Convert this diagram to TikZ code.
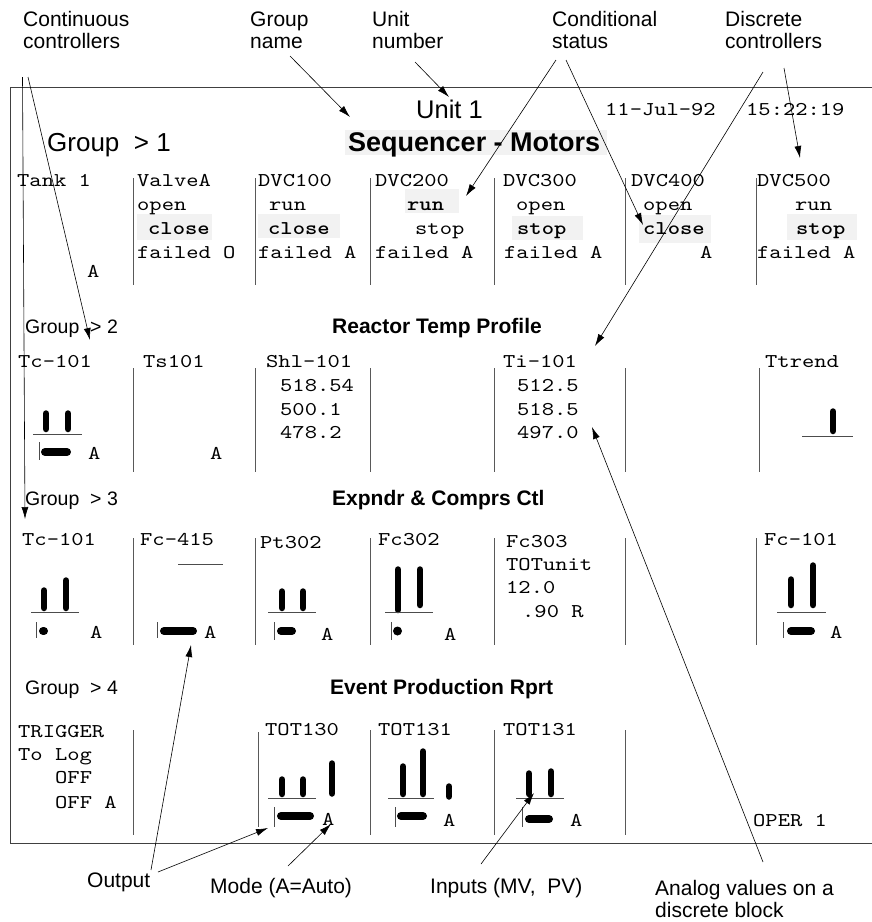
\documentclass[tikz,border=0pt]{standalone}
\usepackage{fontspec}
\setmainfont{Liberation Sans}
\newfontfamily\monofam{lmmono10-regular.otf}[BoldFont=lmmonolt10-bold.otf,FakeStretch=1.2]
\usetikzlibrary{arrows.meta}
\begin{document}
\begin{tikzpicture}[x=1pt,y=-1pt,
  lbl/.style={anchor=base west,inner sep=0,font=\fontsize{21}{25}\selectfont},
  mono/.style={anchor=base west,inner sep=0,font=\fontsize{19.5}{24}\monofam},
  monob/.style={anchor=base west,inner sep=0,font=\fontsize{19.5}{24}\monofam\bfseries},
  gbig/.style={anchor=base west,inner sep=0,font=\fontsize{26}{30}\selectfont},
  gsmall/.style={anchor=base west,inner sep=0,font=\fontsize{19.5}{23}\selectfont},
  gname/.style={anchor=base west,inner sep=0,font=\fontsize{21}{25}\selectfont\bfseries},
  hl/.style={fill=black!5},
  frame/.style={draw=black!75,line width=0.9pt},
  sep/.style={draw=black!65,line width=1pt},
  vbar/.style={line width=6.5pt,line cap=round},
  hbar/.style={line width=8pt,line cap=round},
  base/.style={draw=black!70,line width=0.8pt},
  tick/.style={draw=black!70,line width=0.8pt},
  arr/.style={-{Latex[length=12pt,width=7pt]},line width=0.6pt}]
\useasboundingbox (0,0) rectangle (872,922);

% top labels
\node[lbl] (lcc1) at (23,26) {Continuous};
\node[lbl] (lcc2) at (23,48) {controllers};
\node[lbl] (lgn1) at (250,26) {Group};
\node[lbl] (lgn2) at (250,48) {name};
\node[lbl] (lun1) at (372,26) {Unit};
\node[lbl] (lun2) at (372,48) {number};
\node[lbl] (lcs1) at (552,26) {Conditional};
\node[lbl] (lcs2) at (552,48) {status};
\node[lbl] (ldc1) at (725,26) {Discrete};
\node[lbl] (ldc2) at (725,48) {controllers};

% frame
\draw[frame] (872,87) -- (10,87) -- (10,843) -- (872,843);

% header
\node[anchor=base west,inner sep=0,font=\fontsize{25.5}{30}\selectfont] (unit) at (416,118) {Unit 1};
\node[mono] (date) at (605,115) {11-Jul-92};
\node[mono] (time) at (746,115) {15:22:19};
\node[gbig] (grp1) at (47,151) {Group\ \ > 1};
\fill[hl] (345,130) rectangle (607,155);
\node[anchor=base west,inner sep=0,font=\fontsize{27}{31}\selectfont\bfseries] (seq) at (348,151) {Sequencer - Motors};

% group 1 highlights
\fill[hl] (137,214) rectangle (212,240);
\fill[hl] (258,214) rectangle (340,238);
\fill[hl] (405,189) rectangle (459,213);
\fill[hl] (512,216) rectangle (583,240);
\fill[hl] (639,215) rectangle (711,243);
\fill[hl] (787,214) rectangle (857,240);

% group 1 separators
\foreach \x in {133,255,370,494,625,756} \draw[sep] (\x,178) -- (\x,285);

% group 1 texts
\node[mono] (tank) at (17,186) {Tank 1};
\node[mono] (tankA) at (87,277) {A};
\node[mono] (va1) at (137,186) {ValveA};
\node[mono] (va2) at (137,210) {open};
\node[monob] (va3) at (148,234) {close};
\node[mono] (va4) at (137,258) {failed O};
\node[mono] (d11) at (258,186) {DVC100};
\node[mono] (d12) at (269,210) {run};
\node[monob] (d13) at (268,234) {close};
\node[mono] (d14) at (258,258) {failed A};
\node[mono] (d21) at (375,186) {DVC200};
\node[monob] (d22) at (407,210) {run};
\node[mono] (d23) at (415,234) {stop};
\node[mono] (d24) at (375,258) {failed A};
\node[mono] (d31) at (503,186) {DVC300};
\node[mono] (d32) at (516,210) {open};
\node[monob] (d33) at (517,234) {stop};
\node[mono] (d34) at (504,258) {failed A};
\node[mono] (d41) at (631,186) {DVC400};
\node[mono] (d42) at (643,210) {open};
\node[monob] (d43) at (643,234) {close};
\node[mono] (d44) at (700,258) {A};
\node[mono] (d51) at (757,186) {DVC500};
\node[mono] (d52) at (795,210) {run};
\node[monob] (d53) at (796,234) {stop};
\node[mono] (d54) at (757,258) {failed A};

% group 2
\node[gsmall] (grp2) at (25,333) {Group\ \ > 2};
\node[gname] (gn2) at (332,333) {Reactor Temp Profile};
\foreach \x in {133,255,370,494,625,759} \draw[sep] (\x,368) -- (\x,472);
\node[mono] (tc1) at (18,367) {Tc-101};
\node[mono] (ts1) at (143,367) {Ts101};
\node[mono] (sh1) at (266,367) {Shl-101};
\node[mono] (ti1) at (503,367) {Ti-101};
\node[mono] (tt1) at (765,367) {Ttrend};
\node[mono] (sh2) at (280,391) {518.54};
\node[mono] (sh3) at (280,415) {500.1};
\node[mono] (sh4) at (280,438) {478.2};
\node[mono] (ti2) at (517,391) {512.5};
\node[mono] (ti3) at (517,415) {518.5};
\node[mono] (ti4) at (517,438) {497.0};
\node[mono] (tcA) at (88,459) {A};
\node[mono] (tsA) at (210,459) {A};
\draw[vbar] (46,413.5) -- (46,429);
\draw[vbar] (68,413.5) -- (68,429);
\draw[base] (33,434) -- (82,434);
\draw[tick] (39,442) -- (39,460);
\draw[hbar] (45,452) -- (67,452);
\draw[vbar] (833,411.5) -- (833,431);
\draw[base] (802,436) -- (853,436);

% group 3
\node[gsmall] (grp3) at (25,505) {Group\ \ > 3};
\node[gname] (gn3) at (332,505) {Expndr \& Comprs Ctl};
\foreach \x in {133,255,370,494,625,756} \draw[sep] (\x,538) -- (\x,645);
\node[mono] (c31) at (22,545) {Tc-101};
\node[mono] (c32) at (140,545) {Fc-415};
\node[mono] (c33) at (260,548) {Pt302};
\node[mono] (c34) at (378,545) {Fc302};
\node[mono] (c35) at (506,547) {Fc303};
\node[mono] (c36) at (764,545) {Fc-101};
\node[mono] (c35b) at (506,570) {TOTunit};
\node[mono] (c35c) at (506,593) {12.0};
\node[mono] (c35d) at (522,617) {.90 R};
% Tc-101
\draw[vbar] (44,590.5) -- (44,608);
\draw[vbar] (66,580.5) -- (66,608);
\draw[base] (31,612) -- (79,612);
\draw[tick] (36,622) -- (36,638);
\draw[hbar] (43,631) -- (44,631);
\node[mono] (c31A) at (90,638) {A};
% Fc-415
\draw[base] (178,564) -- (223,564);
\draw[tick] (157,622) -- (157,638);
\draw[hbar] (164,631) -- (193,631);
\node[mono] (c32A) at (204,638) {A};
% Pt302
\draw[vbar] (282,591.5) -- (282,608);
\draw[vbar] (303,591.5) -- (303,608);
\draw[base] (268,612) -- (316,612);
\draw[tick] (274,622) -- (274,640);
\draw[hbar] (281,631) -- (292,631);
\node[mono] (c33A) at (321,640) {A};
% Fc302
\draw[vbar] (398,569.5) -- (398,610);
\draw[vbar] (420,569.5) -- (420,605);
\draw[base] (385,612) -- (433,612);
\draw[tick] (391,622) -- (391,640);
\fill (397.5,631) circle (4.5);
\node[mono] (c34A) at (444,640) {A};
% Fc-101
\draw[vbar] (791,579.5) -- (791,605);
\draw[vbar] (813,565.5) -- (813,605);
\draw[base] (777,612) -- (826,612);
\draw[tick] (783,622) -- (783,638);
\draw[hbar] (791,631) -- (811,631);
\node[mono] (c36A) at (830,638) {A};

% group 4
\node[gsmall] (grp4) at (25,694) {Group\ \ > 4};
\node[gname] (gn4) at (330,694) {Event Production Rprt};
\foreach \x in {133,370,494,625} \draw[sep] (\x,730) -- (\x,835);
\draw[sep] (258,732) -- (258,827);
\node[mono] (e1) at (18,737) {TRIGGER};
\node[mono] (e2) at (18,760) {To Log};
\node[mono] (e3) at (55,783) {OFF};
\node[mono] (e4) at (55,808) {OFF A};
\node[mono] (t130) at (265,735) {TOT130};
\node[mono] (t131a) at (378,735) {TOT131};
\node[mono] (t131b) at (503,735) {TOT131};
\node[mono] (oper) at (753,826) {OPER 1};
% TOT130
\draw[vbar] (282,779.5) -- (282,794);
\draw[vbar] (303,779.5) -- (303,794);
\draw[base] (268,798) -- (316,798);
\draw[vbar] (332,763.5) -- (332,793.5);
\draw[tick] (274,807) -- (274,827);
\draw[hbar] (281,816) -- (310,816);
\node[mono] (t130A) at (322,825) {A};
% TOT131 a
\draw[vbar] (403,766.5) -- (403,794);
\draw[vbar] (423,751.5) -- (423,794);
\draw[base] (388,798) -- (434,798);
\draw[vbar] (449,786.5) -- (449,796.5);
\draw[tick] (395,807) -- (395,827);
\draw[hbar] (401,816) -- (423,816);
\node[mono] (t131aA) at (443,826) {A};
% TOT131 b
\draw[vbar] (529,773.5) -- (529,794);
\draw[vbar] (551,771.5) -- (551,794);
\draw[base] (516,798) -- (564,798);
\draw[tick] (522,807) -- (522,827);
\draw[hbar] (529,819) -- (549,819);
\node[mono] (t131bA) at (570,826) {A};

% bottom labels
\node[lbl] (lout) at (87,887) {Output};
\node[lbl] (lmode) at (210,893) {Mode (A=Auto)};
\node[lbl] (linp) at (430,893) {Inputs (MV,\ \ PV)};
\node[lbl] (lan1) at (655,895) {Analog values on a};
\node[lbl] (lan2) at (655,917) {discrete block};

% arrow coordinates
\coordinate (a1s) at (22.5,77);  \coordinate (a1e) at (25,519);
\coordinate (a2s) at (28,77);    \coordinate (a2e) at (90,340);
\coordinate (a3s) at (290,56);   \coordinate (a3e) at (350,117);
\coordinate (a4s) at (415,62);   \coordinate (a4e) at (449,97);
\coordinate (a5s) at (556,60);   \coordinate (a5e) at (466,196);
\coordinate (a6s) at (566,60);   \coordinate (a6e) at (643,225);
\coordinate (a7s) at (763,72);   \coordinate (a7e) at (595,346);
\coordinate (a8s) at (784,68);   \coordinate (a8e) at (800,158);
\coordinate (a9s) at (151,870);  \coordinate (a9e) at (191,645);
\coordinate (a10s) at (158,872); \coordinate (a10e) at (268,828);
\coordinate (a11s) at (288,866); \coordinate (a11e) at (331,824);
\coordinate (a12s) at (481,864); \coordinate (a12e) at (534,793);
\coordinate (a13s) at (763,862); \coordinate (a13e) at (592,427);
\foreach \i in {1,...,13} \draw[arr] (a\i s) -- (a\i e);
\end{tikzpicture}
\end{document}
